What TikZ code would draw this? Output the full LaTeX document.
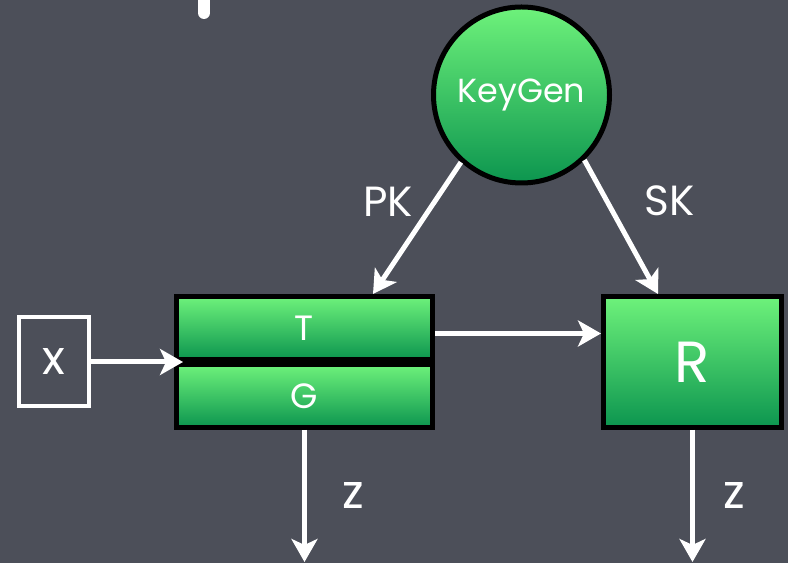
\documentclass[tikz,border=0pt]{standalone}
\usepackage{fontspec}
\setmainfont{Poppins}
\usepackage{tikz}
\usetikzlibrary{arrows.meta, positioning}
\definecolor{BoardGray}{HTML}{4C4F59}
\definecolor{KeyGreenTop}{HTML}{6EF27B}
\definecolor{KeyGreenBot}{HTML}{0C954F}

\begin{document}
\begin{tikzpicture}[node distance=12mm, every node/.style={font=\fontsize{24}{28}\selectfont, text=white}]
  \tikzset{
    gen/.style={circle, draw=black, line width=0.1cm, top color=KeyGreenTop, bottom color=KeyGreenBot, minimum size=3.52cm, inner sep=0pt},
    algo/.style={rectangle, draw=black, line width=0.1cm, top color=KeyGreenTop, bottom color=KeyGreenBot, minimum width=5.12cm, minimum height=1.26cm, inner sep=0pt},
    input/.style={rectangle, draw=white, line width=0.08cm, minimum width=1.40cm, minimum height=1.78cm},
    line/.style={-{Stealth[length=0.46cm, width=0.52cm, inset=0.12cm]}, line width=0.1cm, color=white}
  }
  \fill[BoardGray] (0,0) rectangle (15.76,11.26);
  \useasboundingbox (0,0) rectangle (15.76,11.26);
  \draw[white, line width=0.24cm, line cap=round] (4.08,11.5) -- (4.08,11.0);

  \node[gen] (keygen) at (10.43,9.36) {\fontsize{19}{22}\selectfont KeyGen};
  \node[algo] (tbox) at (6.09,4.70) {\fontsize{20}{24}\selectfont T};
  \node[algo, below=0pt of tbox] (gbox) {\fontsize{20}{24}\selectfont G};
  \node[algo, minimum width=3.56cm, minimum height=2.62cm, right=3.32cm of tbox.north east, anchor=north west] (rbox) {\fontsize{33}{36}\selectfont R};
  \node[input, left=1.66cm of tbox.south west] (xin) {\fontsize{27}{30}\selectfont x};
  \coordinate (gout) at (gbox.south |- 0,0.02);
  \coordinate (rout) at (rbox.south |- 0,0.02);

  \draw[line] (keygen.228) -- ([xshift=1.37cm]tbox.north) node[pos=0.3, left=0.27cm]{PK};
  \draw[line] (keygen.314) -- ([xshift=-0.69cm]rbox.north) node[pos=0.3, right=0.6cm]{SK};
  \draw[line] (xin.east) -- ([xshift=0.18cm]tbox.south west);
  \draw[line] ([yshift=-0.11cm]tbox.east) -- ([yshift=-0.11cm]tbox.east -| rbox.west);
  \draw[line] (gbox.south) -- (gout) node[midway, right=0.6cm]{\fontsize{27}{30}\selectfont z};
  \draw[line] (rbox.south) -- (rout) node[midway, right=0.45cm]{\fontsize{27}{30}\selectfont z};
\end{tikzpicture}
\end{document}
